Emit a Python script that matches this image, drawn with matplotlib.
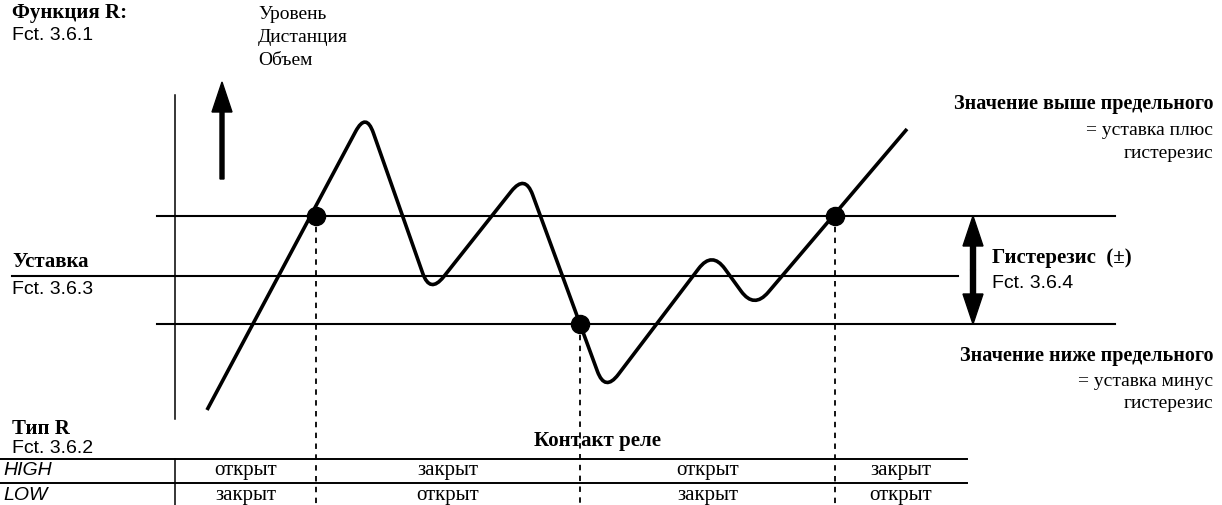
import numpy as np
import matplotlib
matplotlib.use("Agg")
import matplotlib.pyplot as plt
from matplotlib.path import Path
from matplotlib.patches import PathPatch, FancyArrow

# ---------------- data (diagram units, y grows downward) ----------------
level_names = ["upper", "setpoint", "lower"]
level_y = [217, 277, 325]

curve_x = [207, 366, 430, 525, 605, 712, 754, 907]
curve_y = [411, 113, 295, 175, 393, 252, 310, 130]

switch_x = [316, 580, 835]
switch_level = [0, 2, 0]

segment_edges = [175, 316, 580, 835, 967]
high_states = ["открыт", "закрыт", "открыт", "закрыт"]
low_states = ["закрыт", "открыт", "закрыт", "открыт"]
row_labels = ["HIGH", "LOW"]

measure_labels = ["Уровень", "Дистанция", "Объем"]

# ---------------- figure ----------------
W, H = 1222, 506
fig = plt.figure(figsize=(W / 100, H / 100), dpi=100)
ax = fig.add_axes([0, 0, 1, 1])
ax.set_xlim(0, W)
ax.set_ylim(H, 0)
ax.axis("off")

SERIF = ["Liberation Serif", "DejaVu Serif"]
SANS = ["Liberation Sans", "DejaVu Sans"]
FS = 14
FS_B = 15
FS_BR = 14.5
FS_T = 15
FS_SANS = 14


def rounded_path(xs, ys, r):
    pts = np.column_stack([xs, ys]).astype(float)
    verts = [pts[0]]
    codes = [Path.MOVETO]
    for i in range(1, len(pts) - 1):
        p = pts[i]
        u_in = p - pts[i - 1]
        u_in /= np.linalg.norm(u_in)
        u_out = pts[i + 1] - p
        u_out /= np.linalg.norm(u_out)
        verts += [p - r * u_in, p, p + r * u_out]
        codes += [Path.LINETO, Path.CURVE3, Path.CURVE3]
    verts.append(pts[-1])
    codes.append(Path.LINETO)
    return Path(verts, codes)


# vertical axis
ax.plot([175, 175], [96, 420], color="black", lw=1.1)

# level lines
ax.plot([157, 1115], [level_y[0]] * 2, color="black", lw=1.5)
ax.plot([12, 958], [level_y[1]] * 2, color="black", lw=1.5)
ax.plot([157, 1115], [level_y[2]] * 2, color="black", lw=1.5)

# signal curve
ax.add_patch(PathPatch(rounded_path(curve_x, curve_y, 22), fill=False,
                       lw=2.6, edgecolor="black", joinstyle="round",
                       capstyle="butt"))

# switching points and dashed drop lines
for sx, lv in zip(switch_x, switch_level):
    sy = level_y[lv]
    ax.plot([sx, sx], [sy, H], color="black", lw=1.3, ls=(0, (3, 3)))
    ax.plot(sx, sy, "o", color="black", ms=13, zorder=5)

# direction arrow
ax.add_patch(FancyArrow(222, 180, 0, -97, width=4, head_width=20,
                        head_length=30, length_includes_head=True,
                        color="black"))
# hysteresis double arrow
mid = (level_y[0] + level_y[2]) / 2
for end in (level_y[0], level_y[2]):
    ax.add_patch(FancyArrow(973, mid, 0, end - mid, width=5, head_width=20,
                            head_length=30, length_includes_head=True,
                            color="black"))

# ---------------- texts ----------------
ax.text(12, 13, "Функция R:", family=SERIF, weight="bold", fontsize=FS_B, va="center")
ax.text(12, 35, "Fct. 3.6.1", family=SANS, fontsize=FS_SANS, va="center")
for i, lab in enumerate(measure_labels):
    ax.text(258, 14 + 23 * i, lab, family=SERIF, fontsize=FS, va="center")

ax.text(1213, 104, "Значение выше предельного", family=SERIF, weight="bold",
        fontsize=FS_BR, va="center", ha="right")
ax.text(1213, 130, "= уставка плюс", family=SERIF, fontsize=FS, va="center", ha="right")
ax.text(1213, 153, "гистерезис", family=SERIF, fontsize=FS, va="center", ha="right")

ax.text(12, 262, "Уставка", family=SERIF, weight="bold", fontsize=FS_B, va="center")
ax.text(12, 289, "Fct. 3.6.3", family=SANS, fontsize=FS_SANS, va="center")

ax.text(992, 258, "Гистерезис  (±)", family=SERIF, weight="bold", fontsize=FS_B, va="center")
ax.text(992, 283, "Fct. 3.6.4", family=SANS, fontsize=FS_SANS, va="center")

ax.text(1213, 356, "Значение ниже предельного", family=SERIF, weight="bold",
        fontsize=FS_BR, va="center", ha="right")
ax.text(1213, 381, "= уставка минус", family=SERIF, fontsize=FS, va="center", ha="right")
ax.text(1213, 404, "гистерезис", family=SERIF, fontsize=FS, va="center", ha="right")

ax.text(12, 429, "Тип R", family=SERIF, weight="bold", fontsize=FS_B, va="center")
ax.text(12, 449, "Fct. 3.6.2", family=SANS, fontsize=FS_SANS, va="center")
ax.text(598, 441, "Контакт реле", family=SERIF, weight="bold", fontsize=FS_B,
        va="center", ha="center")

# ---------------- relay table ----------------
table_top, row_div = 460, 484
ax.plot([0, segment_edges[-1]], [table_top] * 2, color="black", lw=1.4)
ax.plot([0, segment_edges[-1]], [row_div] * 2, color="black", lw=1.4)
ax.plot([segment_edges[0]] * 2, [table_top, H], color="black", lw=1.1)

row_y = [471, 496]
for ry, lab in zip(row_y, row_labels):
    ax.text(3, ry, lab, family=SANS, style="italic", fontsize=FS_SANS, va="center")
for states, ry in zip([high_states, low_states], row_y):
    for k, st in enumerate(states):
        cx = (segment_edges[k] + segment_edges[k + 1]) / 2
        ax.text(cx, ry, st, family=SERIF, fontsize=FS_T, va="center", ha="center")

fig.savefig("out.png", dpi=100)
